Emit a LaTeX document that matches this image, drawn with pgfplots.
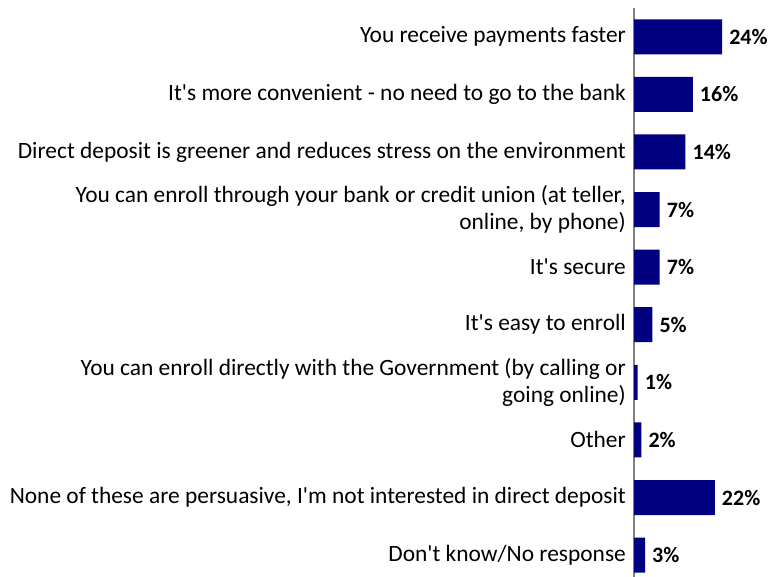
\documentclass[border=0pt]{standalone}
\usepackage{pgfplots}
\pgfplotsset{compat=1.18}
\usepackage{fontspec}
\setmainfont{Carlito}
\definecolor{barnavy}{RGB}{0,0,128}
\definecolor{axgray}{RGB}{128,128,128}
\begin{document}
\begin{tikzpicture}[x=1bp,y=1bp]
\path[use as bounding box] (0,0) rectangle (775,577);
\begin{axis}[
  at={(634bp,0bp)}, anchor=south west,
  scale only axis,
  width=141bp, height=569bp,
  xmin=0, xmax=38.4,
  ymin=-0.5, ymax=9.38,
  y dir=reverse,
  xbar, bar width=35bp, bar shift=0pt,
  axis x line=none,
  axis y line*=left,
  y axis line style={axgray, line width=1.6bp, -},
  ytick={0,...,9},
  major tick length=0pt,
  yticklabels={
    You receive payments faster,
    It\textquotesingle s more convenient - no need to go to the bank,
    Direct deposit is greener and reduces stress on the environment,
    {You can enroll through your bank or credit union (at teller,\\online, by phone)},
    It\textquotesingle s secure,
    It\textquotesingle s easy to enroll,
    {You can enroll directly with the Government (by calling or\\going online)},
    Other,
    {None of these are persuasive, I\textquotesingle m not interested in direct deposit},
    Don\textquotesingle t know/No response},
  yticklabel style={align=right, font=\fontsize{23.4bp}{26.5bp}\selectfont, inner xsep=0pt, xshift=-8bp},
  /pgf/number format/assume math mode=true,
  nodes near coords={\pgfmathprintnumber{\pgfplotspointmeta}\%},
  nodes near coords style={font=\fontsize{22bp}{26bp}\selectfont\bfseries, anchor=west, inner xsep=0pt, xshift=7bp},
  point meta=explicit,
  clip=false,
]
\addplot[fill=barnavy, draw=none] coordinates {
 (24,0) [24]
 (16,1) [16]
 (14,2) [14]
 (7,3) [7]
 (7,4) [7]
 (5,5) [5]
 (1,6) [1]
 (2,7) [2]
 (22,8) [22]
 (3,9) [3]
};
\end{axis}
\end{tikzpicture}
\end{document}
